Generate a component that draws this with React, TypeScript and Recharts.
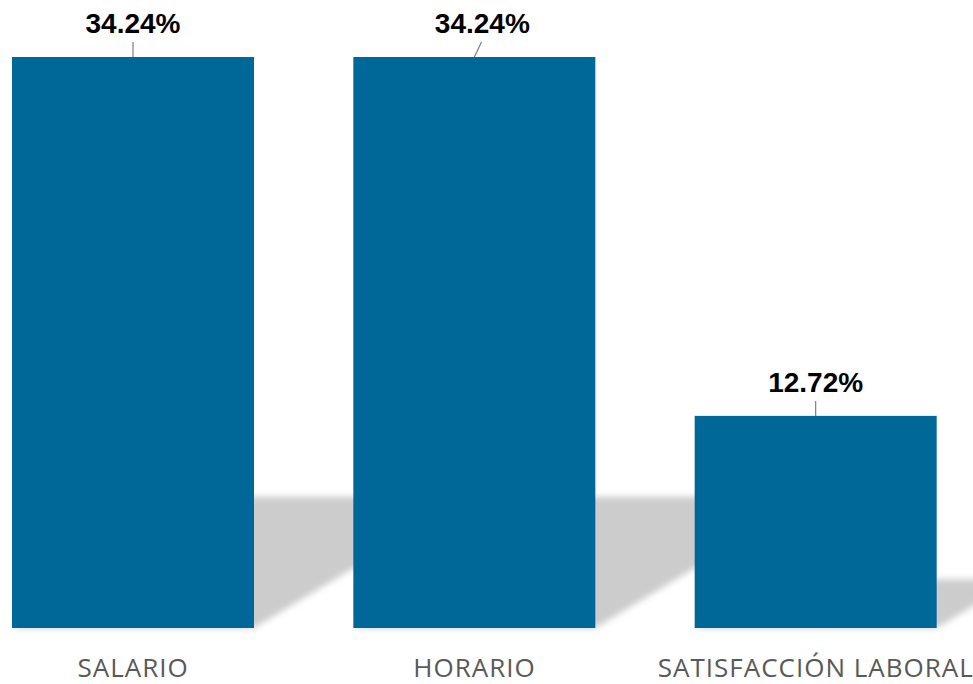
import React from 'react';
import { BarChart, Bar, XAxis, YAxis, LabelList } from 'recharts';

const categories = ['SALARIO', 'HORARIO', 'SATISFACCIÓN LABORAL'];
const values = [34.24, 34.24, 12.72];
const labels = ['34.24%', '34.24%', '12.72%'];

const data = categories.map((c, i) => ({ name: c, value: values[i], label: labels[i] }));

const BAR_COLOR = '#006898';

const BarWithShadow = (props: any) => {
  const { x, y, width, height, index } = props;
  const base = y + height;
  const sx = height * 0.382;
  const sy = height * 0.23;
  const pts = [
    [x, base],
    [x + width, base],
    [x + width + sx, base - sy],
    [x + sx, base - sy],
  ]
    .map((p) => p.join(','))
    .join(' ');
  const fid = `shadowBlur${index}`;
  return (
    <g>
      <defs>
        <filter id={fid} x="-20%" y="-20%" width="140%" height="140%">
          <feGaussianBlur stdDeviation="3" />
        </filter>
      </defs>
      <polygon points={pts} fill="#cccccc" filter={`url(#${fid})`} />
      <rect x={x} y={y} width={width} height={height} fill={BAR_COLOR} />
    </g>
  );
};

const renderLabel = (props: any) => {
  const { x, y, width, index } = props;
  const cx = x + width / 2;
  const shift = index === 1 ? 8 : 0;
  return (
    <g>
      <line x1={cx} y1={y} x2={cx + shift * 0.9} y2={y - 15} stroke="#7f7f7f" strokeWidth={1.2} />
      <text
        x={cx + shift}
        y={y - 24}
        textAnchor="middle"
        fontFamily="'Liberation Sans', Arial, sans-serif"
        fontWeight="bold"
        fontSize={28}
        fill="#000000"
      >
        {labels[index]}
      </text>
    </g>
  );
};

const renderTick = (props: any) => {
  const { x, y, payload } = props;
  return (
    <text
      x={x + 0.5}
      y={y + 49}
      textAnchor="middle"
      fontFamily="'Open Sans', 'Noto Sans', sans-serif"
      fontSize={26}
      letterSpacing={1}
      fill="#595959"
    >
      {payload.value}
    </text>
  );
};

export default function App() {
  return (
    <div
      style={{
        position: 'absolute',
        left: 0,
        top: 0,
        width: 973,
        height: 684,
        overflow: 'hidden',
        background: '#ffffff',
      }}
    >
      <div style={{ position: 'absolute', left: -38, top: 0 }}>
        <BarChart
          width={1024}
          height={684}
          data={data}
          margin={{ top: 57, right: 0, bottom: 0, left: 0 }}
          barSize={242}
        >
          <XAxis
            dataKey="name"
            height={56}
            axisLine={false}
            tickLine={false}
            tickSize={0}
            tickMargin={0}
            interval={0}
            tick={renderTick}
          />
          <YAxis hide domain={[0, 34.24]} />
          <Bar dataKey="value" isAnimationActive={false} shape={BarWithShadow}>
            <LabelList dataKey="value" content={renderLabel} />
          </Bar>
        </BarChart>
      </div>
    </div>
  );
}
